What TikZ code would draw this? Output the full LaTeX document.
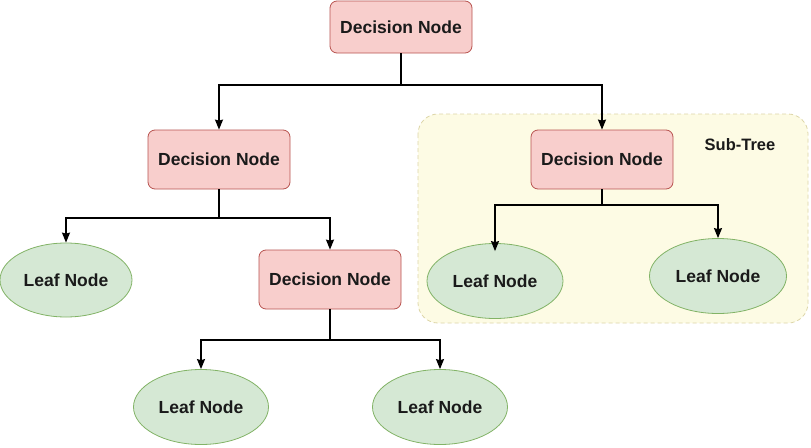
\documentclass[tikz,border=0pt]{standalone}
\usepackage{fontspec}
\setmainfont{Liberation Sans}
\usetikzlibrary{shapes.geometric,arrows.meta}
\definecolor{decfill}{HTML}{F8CECC}
\definecolor{decline}{HTML}{B85450}
\definecolor{leaffill}{HTML}{D5E8D4}
\definecolor{leafline}{HTML}{82B366}
\definecolor{subfill}{HTML}{FDFBE4}
\definecolor{subline}{HTML}{DDD6A8}
\definecolor{txt}{HTML}{1A1A1A}
\tikzset{
  decision/.style={draw=decline, fill=decfill, rounded corners=7pt, line width=0.8pt,
    minimum width=142pt, minimum height=59pt, inner sep=0pt, text=txt,
    font=\fontsize{17.5}{19}\selectfont\bfseries},
  leaf/.style={ellipse, draw=leafline, fill=leaffill, line width=0.8pt,
    minimum width=135pt, minimum height=75pt, inner sep=0pt, text=txt,
    font=\fontsize{17.5}{19}\selectfont\bfseries},
  arr/.style={line width=1.3pt, -{Stealth[length=10pt,width=8pt,inset=1pt]}},
  subbox/.style={draw=subline, fill=subfill, dashed, dash pattern=on 4pt off 3pt,
    line width=0.8pt, rounded corners=20pt},
}
\begin{document}
\begin{tikzpicture}[x=1pt,y=-1pt]
\useasboundingbox (0,0) rectangle (811,447);
\fill[white] (0,0) rectangle (811,447);
% sub-tree region
\draw[subbox] (418,114) rectangle (808,323);
\node[text=txt, font=\fontsize{16.5}{18}\selectfont\bfseries] (sublabel) at (740,145) {Sub-Tree};
% nodes
\node[decision, minimum height=52pt] (root) at (401,27) {Decision Node};
\node[decision] (d2) at (219,159.5) {Decision Node};
\node[decision] (d3) at (602,159.5) {Decision Node};
\node[decision] (d4) at (330,279.5) {Decision Node};
\node[leaf, minimum width=132pt, minimum height=74pt] (l1) at (66,280) {Leaf Node};
\node[leaf] (l2) at (201,407) {Leaf Node};
\node[leaf] (l3) at (440,407) {Leaf Node};
\node[leaf, minimum width=136pt] (l4) at (495,281) {Leaf Node};
\node[leaf, minimum width=137pt] (l5) at (718,276) {Leaf Node};
% junctions
\coordinate (j1) at (401,85);
\coordinate (j2) at (219,218);
\coordinate (j3) at (330,340);
\coordinate (j4) at (602,205);
% connectors
\draw[arr] (root.south) -- (j1) -| (d2.north);
\draw[arr] (j1) -| (d3.north);
\draw[arr] (d2.south) -- (j2) -| (l1.north);
\draw[arr] (j2) -| (d4.north);
\draw[arr] (d4.south) -- (j3) -| (l2.north);
\draw[arr] (j3) -| (l3.north);
\draw[arr] (d3.south) -- (j4) -| ([yshift=-8pt]l4.north);
\draw[arr] (j4) -| (l5.north);
\end{tikzpicture}
\end{document}
